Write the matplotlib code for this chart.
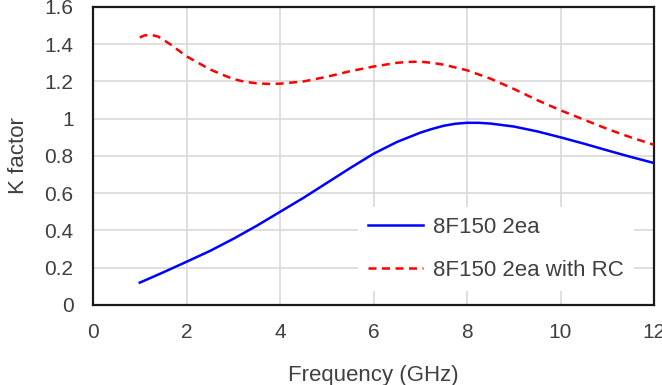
import matplotlib
matplotlib.use("Agg")
import matplotlib.pyplot as plt

freq_blue = [1.0, 1.5, 2.0, 2.5, 3.0, 3.5, 4.0, 4.5, 5.0, 5.5, 6.0, 6.5, 7.0, 7.25, 7.5, 7.75, 8.0,
             8.25, 8.5, 9.0, 9.5, 10.0, 10.5, 11.0, 11.5, 12.0]
k_blue = [0.12, 0.175, 0.232, 0.29, 0.355, 0.425, 0.50, 0.575, 0.655, 0.735, 0.812, 0.875, 0.925, 0.945,
          0.962, 0.973, 0.978, 0.978, 0.974, 0.958, 0.932, 0.90, 0.866, 0.83, 0.795, 0.762]
freq_red = [1.0, 1.1, 1.25, 1.4, 1.65, 2.0, 2.25, 2.5, 2.75, 3.0, 3.25, 3.5, 3.75, 4.0, 4.5, 5.0, 5.5,
            6.0, 6.5, 6.75, 7.0, 7.25, 7.5, 8.0, 8.5, 9.0, 9.5, 10.0, 10.5, 11.0, 11.5, 12.0]
k_red = [1.436, 1.447, 1.45, 1.44, 1.40, 1.335, 1.30, 1.265, 1.238, 1.213, 1.198, 1.19, 1.187, 1.188,
         1.20, 1.225, 1.255, 1.28, 1.30, 1.305, 1.306, 1.30, 1.29, 1.26, 1.215, 1.16, 1.10, 1.045,
         0.995, 0.945, 0.90, 0.86]
label_blue = "8F150 2ea"
label_red = "8F150 2ea with RC"
xticks = [0, 2, 4, 6, 8, 10, 12]
yticks = [0, 0.2, 0.4, 0.6, 0.8, 1.0, 1.2, 1.4, 1.6]
ytick_labels = ["0", "0.2", "0.4", "0.6", "0.8", "1", "1.2", "1.4", "1.6"]

plt.rcParams['font.family'] = ['Liberation Sans', 'DejaVu Sans']

fig = plt.figure(figsize=(6.62, 3.85), dpi=100)
ax = fig.add_axes([0.1405, 0.2078, 0.988 - 0.1405, 0.982 - 0.2078])

ax.plot(freq_blue, k_blue, color="#0000ff", lw=1.8, label=label_blue, zorder=3)
ax.plot(freq_red, k_red, color="#ff0000", lw=1.8, ls=(0, (3.2, 2.2)), label=label_red, zorder=3)

ax.set_xlim(0, 12)
ax.set_ylim(0, 1.6)
ax.set_xticks(xticks)
ax.set_yticks(yticks)
ax.set_yticklabels(ytick_labels)
ax.grid(True, color="#d9d9d9", lw=1.2)
ax.set_axisbelow(True)
ax.tick_params(length=0, labelsize=15, colors="#404040")
ax.tick_params(axis="x", pad=13)
ax.tick_params(axis="y", pad=14)
for s in ax.spines.values():
    s.set_color("#1a1a1a")
    s.set_linewidth(1.6)

ax.set_xlabel("Frequency (GHz)", fontsize=16, color="#404040", labelpad=16.5)
ax.set_ylabel("K factor", fontsize=16, color="#404040", labelpad=11)

leg = ax.legend(loc="upper left", bbox_to_anchor=(0.472, 0.329), frameon=True, fontsize=16,
                handlelength=2.5, handletextpad=0.45, labelspacing=1.0, borderpad=0.45,
                borderaxespad=0, fancybox=False)
leg.get_frame().set_edgecolor("none")
leg.get_frame().set_facecolor("white")
leg.get_frame().set_alpha(1)
for t in leg.get_texts():
    t.set_color("#404040")

fig.savefig("out.png", dpi=100)
